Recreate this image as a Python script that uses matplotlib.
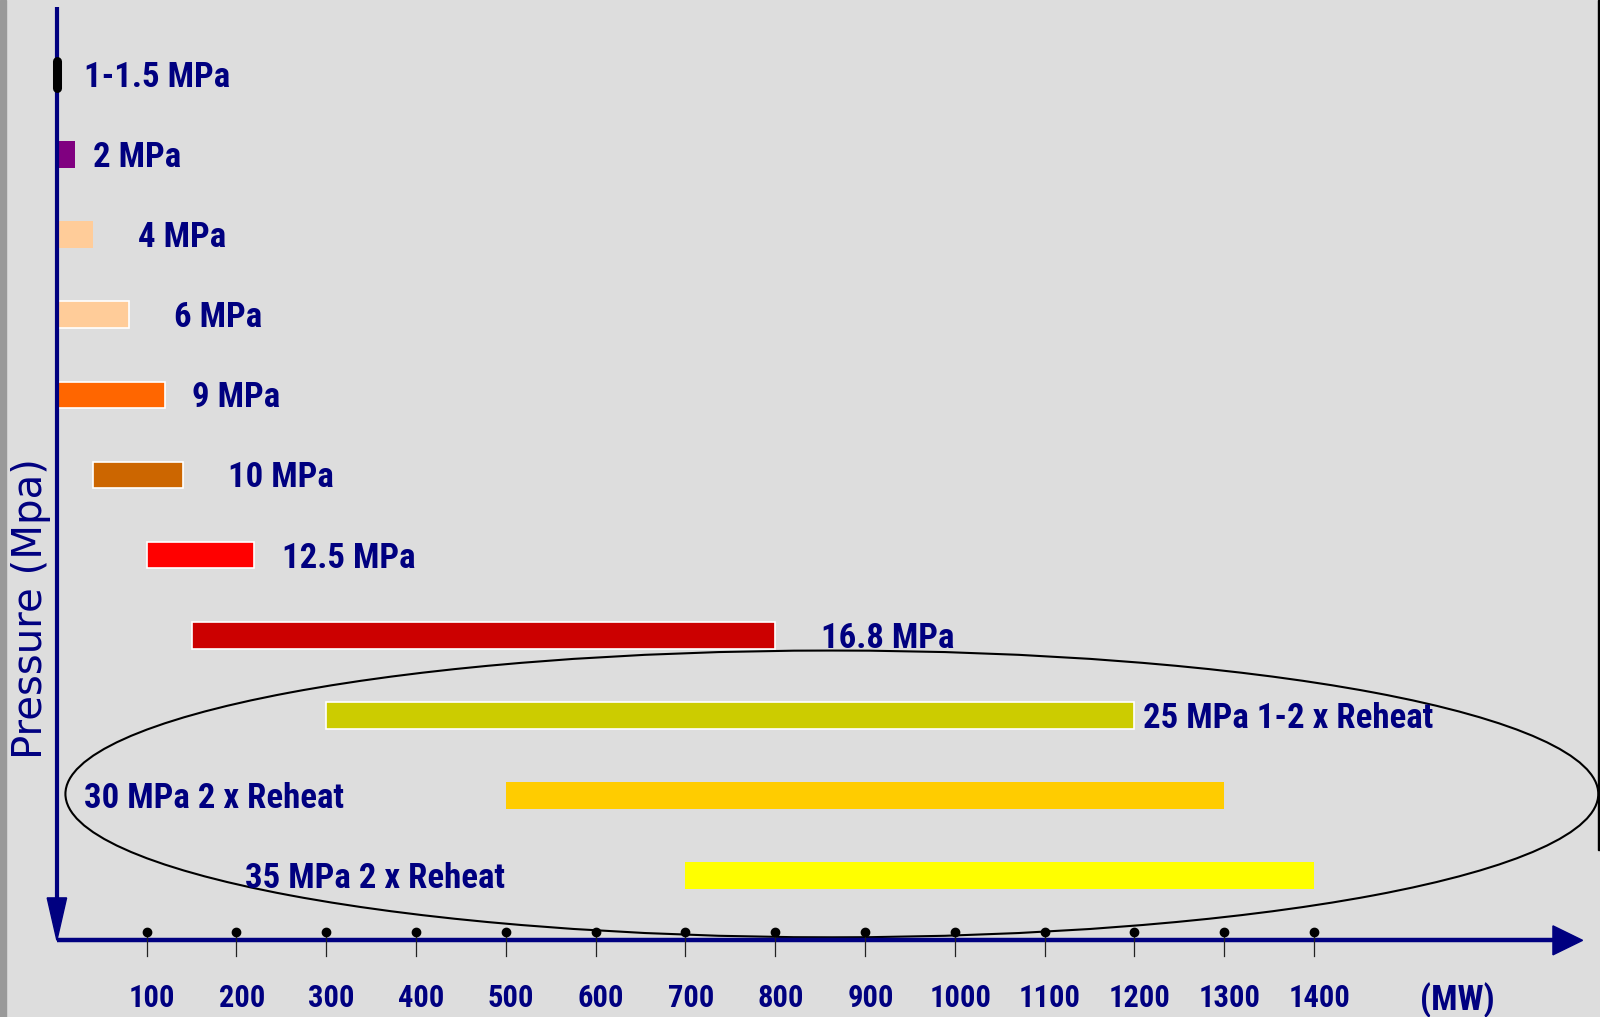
import matplotlib
matplotlib.use("Agg")
import matplotlib.pyplot as plt
from matplotlib import font_manager
from matplotlib.patches import Ellipse, Rectangle, Polygon

# Steam pressure classes and the unit-size range (MW) each one covers
pressure_labels = ["1-1.5 MPa", "2 MPa", "4 MPa", "6 MPa", "9 MPa", "10 MPa",
                   "12.5 MPa", "16.8 MPa", "25 MPa 1-2 x Reheat",
                   "30 MPa 2 x Reheat", "35 MPa 2 x Reheat"]
mw_start = [0, 0, 0, 0, 0, 40, 100, 150, 300, 500, 700]
mw_end = [0, 20, 40, 80, 120, 140, 220, 800, 1200, 1300, 1400]
tick_values = [100, 200, 300, 400, 500, 600, 700, 800, 900, 1000, 1100, 1200, 1300, 1400]
tick_labels = [str(v) for v in tick_values]

# Styling
bar_colors = ["#000000", "#800080", "#FFCC99", "#FFCC99", "#FF6600", "#CC6600",
              "#FF0000", "#CC0000", "#CCCC00", "#FFCC00", "#FFFF00"]
bar_edges = ["none", "none", "none", "white", "white", "white",
             "white", "white", "white", "none", "none"]
label_x = [30, 40, 90, 130, 150, 190, 251, 851, 1210, 30, 210]

NAVY = "#000080"
BG = "#DDDDDD"

# Prefer a condensed bold face; fall back to a smaller regular-width one
installed = {f.name for f in font_manager.fontManager.ttflist}
narrow = [n for n in ("Liberation Sans Narrow", "Arial Narrow", "Roboto Condensed",
                      "Open Sans Condensed", "DejaVu Sans Condensed") if n in installed]
if narrow and narrow[0] != "DejaVu Sans Condensed":
    label_family, label_size, tick_size = narrow[0], 25, 22
elif narrow:
    label_family, label_size, tick_size = narrow[0], 21, 19
else:
    label_family, label_size, tick_size = "Liberation Sans", 21, 18.5
LABEL_FONT = dict(family=label_family, weight="bold", color=NAVY)

fig = plt.figure(figsize=(16, 10.17), dpi=100, facecolor=BG)
ax = fig.add_axes([0, 0, 1, 1])
ax.set_facecolor(BG)
ax.set_xlim(-63.36, 1718.4)
ax.set_ylim(11.767, -0.930)
ax.axis("off")

rows = list(range(len(pressure_labels)))
bar_h = 0.333

# Frame strips at the left and right edges
fig.patches.append(Rectangle((0, 0), 6 / 1600, 1, transform=fig.transFigure,
                             color="#999999", zorder=0))
fig.patches.append(Rectangle((1597.5 / 1600, 167 / 1017), 2.5 / 1600, 850 / 1017,
                             transform=fig.transFigure, color="black", zorder=0))

# Supercritical region highlight
ax.add_patch(Ellipse((863, 8.982), 1707, 3.58, fill=False, edgecolor="black",
                     linewidth=1.5, zorder=2))

# Range bars
for r, s, e, c, ec in zip(rows, mw_start, mw_end, bar_colors, bar_edges):
    if e - s <= 0:
        ax.plot([s, s], [r - 0.17, r + 0.17], color=c, linewidth=6.5,
                solid_capstyle="round", zorder=5)
    else:
        ax.barh(r, e - s, left=s, height=bar_h, color=c, edgecolor=ec,
                linewidth=1.2, zorder=3)

# Pressure labels
for r, txt, lx in zip(rows, pressure_labels, label_x):
    ax.text(lx, r + 0.156, txt, fontsize=label_size, ha="left", va="baseline",
            **LABEL_FONT)

# Axes with arrowheads
axis_row = 10.81
ax.plot([0, 1670], [axis_row, axis_row], color=NAVY, linewidth=3.2,
        solid_capstyle="butt", zorder=4)
ax.add_patch(Polygon([[1666, axis_row - 0.181], [1699, axis_row],
                      [1666, axis_row + 0.181]], closed=True, color=NAVY, zorder=4))
ax.plot([0, 0], [-0.843, 10.3], color=NAVY, linewidth=3.0,
        solid_capstyle="butt", zorder=4)
ax.add_patch(Polygon([[-10.8, 10.28], [0, axis_row], [10.8, 10.28]],
                     closed=True, color=NAVY, zorder=4))

# Tick pins and labels
for v, t in zip(tick_values, tick_labels):
    ax.plot([v, v], [10.705, 11.005], color="#222222", linewidth=0.9, zorder=5)
    ax.plot(v, 10.705, marker="o", markersize=6, color="black", zorder=6)
    ax.text(v + 6, 11.638, t, fontsize=tick_size, ha="center", va="baseline",
            **LABEL_FONT)

ax.text(1559, 11.68, "(MW)", fontsize=label_size, ha="center", va="baseline",
        **LABEL_FONT)

ax.text(-29, 6.667, "Pressure (Mpa)", fontsize=29, rotation=90, ha="center",
        va="center", color=NAVY, family="DejaVu Sans")

fig.savefig("out.png", dpi=100, facecolor=BG)
